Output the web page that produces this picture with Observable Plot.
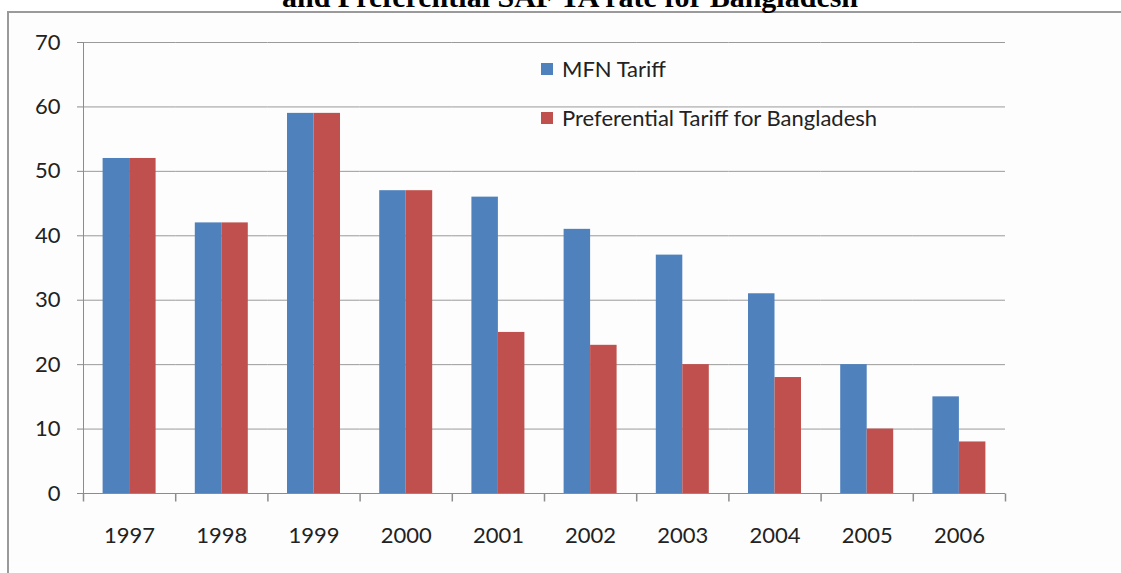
<!DOCTYPE html>
<html>
<head>
<meta charset="utf-8">
<script src="https://cdn.jsdelivr.net/npm/d3@7"></script>
<script src="https://cdn.jsdelivr.net/npm/@observablehq/plot@0.6"></script>
<style>
  html, body { margin: 0; padding: 0; background: #fff; }
  #wrap { position: relative; width: 1121px; height: 573px; overflow: hidden; background: #fff; }
  #border { position: absolute; left: 7px; top: 11px; width: 1200px; height: 700px;
            border-top: 2px solid #9a9a9a; border-left: 2px solid #9a9a9a; background: #fdfdfd; }
  #title { position: absolute; top: -18px; left: 570px; transform: translateX(-50%);
           white-space: nowrap; font-family: "Liberation Serif", "Times New Roman", serif;
           font-weight: bold; font-size: 30px; line-height: 30px; color: #000; }
  #chart { position: absolute; left: 0; top: 0; }
  #legend { position: absolute; left: 541px; top: 0; font-family: Lato, "Open Sans", sans-serif;
            font-size: 22px; color: #222; }
  .item { position: absolute; left: 0; white-space: nowrap; display: flex; align-items: center; }
  .sw { width: 12px; height: 12px; margin-right: 9px; }
</style>
</head>
<body>
<div id="wrap">
  <div id="border"></div>
  <div id="title"></div>
  <div id="chart"></div>
  <div id="legend"></div>
</div>
<script>
const titleText = "and Preferential SAF TA rate for Bangladesh";
const years = ["1997", "1998", "1999", "2000", "2001", "2002", "2003", "2004", "2005", "2006"];
const seriesNames = ["MFN Tariff", "Preferential Tariff for Bangladesh"];
const mfnTariff = [52, 42, 59, 47, 46, 41, 37, 31, 20, 15];
const prefTariff = [52, 42, 59, 47, 25, 23, 20, 18, 10, 8];
const seriesColors = ["#4F81BD", "#C0504D"];
const yTicks = [0, 10, 20, 30, 40, 50, 60, 70];

document.getElementById("title").textContent = titleText;

const rows = years.flatMap((yr, i) => [
  {year: yr, series: seriesNames[0], value: mfnTariff[i]},
  {year: yr, series: seriesNames[1], value: prefTariff[i]}
]);

const tickSymbol = { draw(ctx) { ctx.moveTo(0, 0); ctx.lineTo(0, 8); } };
const axisColor = "#8c8c8c";

const chart = Plot.plot({
  width: 1121,
  height: 573,
  marginLeft: 83,
  marginRight: 116,
  marginTop: 42,
  marginBottom: 80,
  style: { background: "transparent", fontFamily: "Lato, 'Open Sans', sans-serif", color: "#222" },
  fx: { domain: years, padding: 0, round: false, axis: null },
  x: { domain: seriesNames, paddingInner: 0, paddingOuter: 0.74, round: false, axis: null },
  y: { domain: [0, 70], axis: null },
  color: { domain: seriesNames, range: seriesColors },
  marks: [
    Plot.gridY(yTicks, { stroke: "#9a9a9a", strokeOpacity: 1 }),
    Plot.barY(rows, { fx: "year", x: "series", y: "value", fill: "series", inset: 0 }),
    Plot.ruleY([0], { stroke: axisColor }),
    Plot.frame({ anchor: "left", facetAnchor: "left", stroke: axisColor }),
    Plot.dot([0], { frameAnchor: "bottom-left", symbol: tickSymbol, fill: "none", stroke: axisColor }),
    Plot.dot([0], { frameAnchor: "bottom-right", facetAnchor: "right", symbol: tickSymbol, fill: "none", stroke: axisColor }),
    Plot.axisY({ ticks: yTicks, tickSize: 6, tickPadding: 17, fontSize: 22, label: null, stroke: axisColor, facetAnchor: "left" }),
    Plot.axisFx({ anchor: "bottom", tickSize: 0, tickPadding: 34, fontSize: 22, label: null })
  ]
});
document.getElementById("chart").appendChild(chart);

const legend = document.getElementById("legend");
const legendTops = [55, 104];
seriesNames.forEach((name, i) => {
  const item = document.createElement("div");
  item.className = "item";
  item.style.top = legendTops[i] + "px";
  const sw = document.createElement("span");
  sw.className = "sw";
  sw.style.background = seriesColors[i];
  const t = document.createElement("span");
  t.textContent = name;
  item.appendChild(sw);
  item.appendChild(t);
  legend.appendChild(item);
});
</script>
</body>
</html>
